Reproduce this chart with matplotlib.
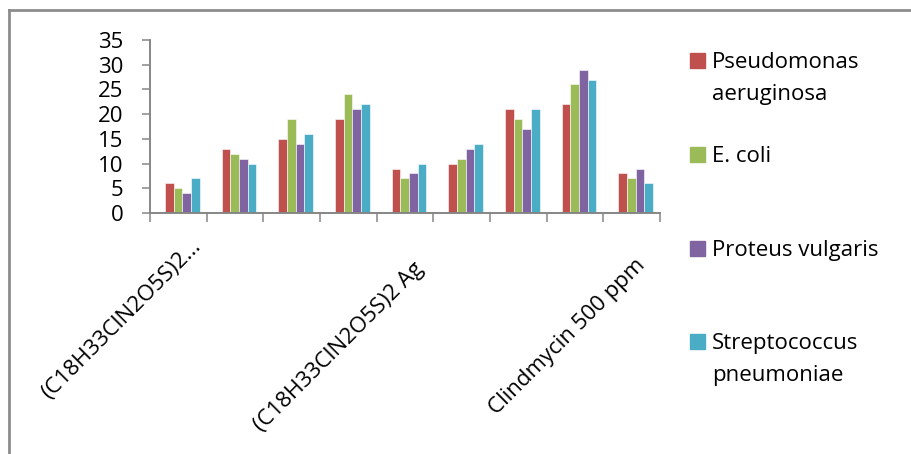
import matplotlib
matplotlib.use('Agg')
import numpy as np
import matplotlib.pyplot as plt
import matplotlib.transforms as mtransforms
from matplotlib.lines import Line2D

plt.rcParams['font.family'] = ['Open Sans', 'DejaVu Sans']

# ─── data ─────────────────────────────────────────────────────────────────────
tick_labels = ["(C18H33ClN2O5S)2...", "", "", "",
               "(C18H33ClN2O5S)2 Ag", "", "", "",
               "Clindmycin 500 ppm"]
series_names = ["Pseudomonas\naeruginosa", "E. coli",
                "Proteus vulgaris", "Streptococcus\npneumoniae"]
pseudomonas   = [6, 13, 15, 19, 9, 10, 21, 22, 8]
e_coli        = [5, 12, 19, 24, 7, 11, 19, 26, 7]
proteus       = [4, 11, 14, 21, 8, 13, 17, 29, 9]
streptococcus = [7, 10, 16, 22, 10, 14, 21, 27, 6]
y_ticks = [0, 5, 10, 15, 20, 25, 30, 35]

# ─── style ────────────────────────────────────────────────────────────────────
colors = ["#C0504D", "#9BBB59", "#8064A2", "#4BACC6"]
AXIS_GRAY = "#868686"
FRAME_GRAY = "#8c8c8c"
FS = 16
W, H = 911, 454

fig = plt.figure(figsize=(W / 100, H / 100), dpi=100)
ax = fig.add_axes([150 / W, 1 - 213 / H, 510 / W, 173 / H])

x = np.arange(len(tick_labels))
bar_w = 0.153
shift = 0.07   # clusters sit a touch right of the category centre
for i, (vals, col) in enumerate(zip([pseudomonas, e_coli, proteus, streptococcus], colors)):
    ax.bar(x + shift + (i - 1.5) * bar_w, vals, width=bar_w, color=col,
           edgecolor="white", linewidth=0.4)

ax.set_xlim(-0.5, len(tick_labels) - 0.5)
ax.set_ylim(0, 35)
ax.set_yticks(y_ticks)
ax.set_yticklabels([str(v) for v in y_ticks], fontsize=FS)

# tick marks on the category boundaries, labels drawn separately
ax.set_xticks(np.arange(len(tick_labels) + 1) - 0.5)
ax.set_xticklabels([])
ax.tick_params(axis="x", length=6.5, width=1.1, color=AXIS_GRAY, direction="out")
ax.tick_params(axis="y", length=6, width=1.1, color=AXIS_GRAY, direction="out", pad=13)

# pixel offsets of each rotated label's top-right corner from its category centre
label_dx = [12, 0, 0, 0, 8, 0, 0, 0, 3]
label_dy = [23, 0, 0, 0, 45, 0, 0, 0, 42]
for xi, lab, dx, dy in zip(x, tick_labels, label_dx, label_dy):
    if not lab:
        continue
    off = mtransforms.ScaledTranslation(dx / 100, -dy / 100, fig.dpi_scale_trans)
    ax.text(xi, 0, lab, rotation=45, ha="right", va="top", rotation_mode="anchor",
            fontsize=FS, transform=ax.get_xaxis_transform() + off)

for side in ("top", "right"):
    ax.spines[side].set_visible(False)
for side in ("left", "bottom"):
    ax.spines[side].set_color(AXIS_GRAY)
    ax.spines[side].set_linewidth(1.4)

# legend down the right-hand side: square beside the first line of each name
legend_top = [53, 147, 241, 334]
for name, col, top in zip(series_names, colors, legend_top):
    fig.add_artist(plt.Rectangle((690 / W, 1 - (top + 15) / H), 15 / W, 15 / H,
                                 transform=fig.transFigure, color=col))
    for k, line in enumerate(name.split("\n")):
        fig.text(712 / W, 1 - (top + 15 + 32 * k) / H, line, fontsize=FS,
                 va="baseline")

# chart frame (top and left edges)
fig.add_artist(Line2D([9 / W, 1], [1 - 10 / H] * 2, transform=fig.transFigure,
                      color=FRAME_GRAY, linewidth=2))
fig.add_artist(Line2D([9 / W] * 2, [0, 1 - 10 / H], transform=fig.transFigure,
                      color=FRAME_GRAY, linewidth=2))

fig.savefig("out.png", dpi=100)
